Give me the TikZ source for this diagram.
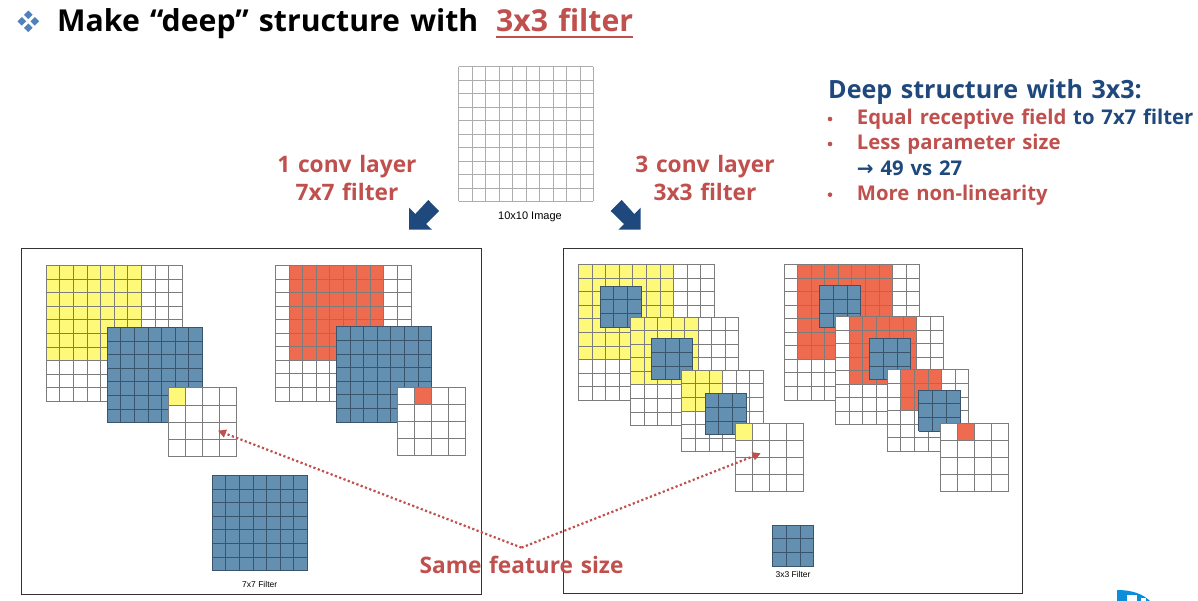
\documentclass[tikz,border=0pt]{standalone}
\usepackage{fontspec}
\usetikzlibrary{arrows.meta}
\newfontfamily\slidefont[WordSpace=1.3]{Open Sans}
\newfontfamily\capfont{Liberation Sans}
\newfontfamily\arrowfont{DejaVu Sans}
\definecolor{rot}{HTML}{C0504D}
\definecolor{navy}{HTML}{1F497D}
\definecolor{dia}{HTML}{4F81BD}
\definecolor{filt}{HTML}{6390B0}
\definecolor{gelb}{HTML}{FFF97A}
\definecolor{koral}{HTML}{EE6B50}
\definecolor{netz}{HTML}{7C7C7C}
\definecolor{netzd}{HTML}{3A556B}
\definecolor{logo}{HTML}{0A8FD8}
\tikzset{
  frame/.style={draw=black!80,line width=0.9pt},
  netzlin/.style={netz,line width=0.55pt},
  netzfilt/.style={netzd,line width=0.55pt},
  netzhell/.style={black!32,line width=0.55pt},
  blockpfeil/.style={fill=navy},
  samepfeil/.style={-{Triangle[length=8pt,width=8pt]},rot,line width=2.2pt,dash pattern=on 2.2pt off 2.4pt},
  rottxt/.style={rot,font=\slidefont\bfseries\fontsize{22.7}{22.7}\selectfont,inner sep=0pt},
  listtxt/.style={anchor=base west,inner sep=0pt,font=\slidefont\bfseries\fontsize{20.3}{20.3}\selectfont},
  captxt/.style={inner sep=0pt,font=\capfont\fontsize{8.5}{8.5}\selectfont},
}
% x, y, cells, cell size, first painted column, painted cells, colour
\newcommand{\cellgrid}[8][netzlin]{%
  \fill[white] (#2,#3) rectangle ({#2+#4*#5},{#3+#4*#5});
  \fill[#8] ({#2+#6*#5},#3) rectangle ({#2+(#6+#7)*#5},{#3+#7*#5});
  \foreach \i in {0,...,#4} {
    \draw[#1] ({#2+\i*#5},#3) -- ({#2+\i*#5},{#3+#4*#5});
    \draw[#1] (#2,{#3+\i*#5}) -- ({#2+#4*#5},{#3+\i*#5});
  }
}
\newcommand{\filtgrid}[3]{\cellgrid[netzfilt]{#1}{#2}{#3}{\ifnum#3=3 13.75\else 13.6\fi}{0}{#3}{filt}}
\begin{document}
\begin{tikzpicture}[x=1pt,y=-1pt]
  \useasboundingbox (0,0) rectangle (1198,601);
  \fill[white] (0,0) rectangle (1198,601);
  % title
  \foreach \dx/\dy in {0/-6.5,-6.5/0,6.5/0,0/6.5}
    \fill[dia] (28.3+\dx,21.3+\dy-4.3) -- ++(4.3,4.3) -- ++(-4.3,4.3) -- ++(-4.3,-4.3) -- cycle;
  \node[anchor=base west,inner sep=0pt,font=\slidefont\bfseries\fontsize{30.2}{30.2}\selectfont] (title) at (57,32) {Make “deep” structure with};
  \node[anchor=base west,inner sep=0pt,rot,font=\slidefont\bfseries\fontsize{30.2}{30.2}\selectfont] (titlered) at (496,32) {3x3 filter};
  \draw[rot,line width=1.3pt] ([yshift=-5pt]titlered.base west) -- ([yshift=-5pt]titlered.base east);
  % input image
  \cellgrid[netzhell]{458.7}{66.7}{10}{13.46}{0}{0}{white}
  \node[captxt,font=\capfont\fontsize{11}{11}\selectfont] (imglabel) at (530,216.5) {10x10 Image};
  \node[rottxt,anchor=base] (onelayer) at (347,173) {1 conv layer};
  \node[rottxt,anchor=base] (onefilter) at (347,200.7) {7x7 filter};
  \node[rottxt,anchor=base] (threelayer) at (705,173) {3 conv layer};
  \node[rottxt,anchor=base] (threefilter) at (705,200.7) {3x3 filter};
  \fill[blockpfeil] (428.3,200) -- (439,211) -- (426,224) -- (432,229.7) -- (409,229.7) -- (409,207.7) -- (415.3,214) -- cycle;
  \fill[blockpfeil] (621.7,200) -- (610.7,211) -- (624,224) -- (618.3,229.7) -- (640.7,229.7) -- (640.7,207.7) -- (634.3,214) -- cycle;
  % notes
  \node[anchor=base west,inner sep=0pt,navy,font=\slidefont\bfseries\fontsize{25.1}{25.1}\selectfont] (deep) at (828,98.3) {Deep structure with 3x3:};
  \node[listtxt,rot] (equal) at (856.7,125) {Equal receptive field \textcolor{navy}{to 7x7 filter}};
  \node[listtxt,rot] (less) at (856.7,150) {Less parameter size};
  \node[listtxt,navy] (vs) at (856.7,176) {{\arrowfont\fontsize{20}{20}\selectfont →} 49 vs 27};
  \node[listtxt,rot] (more) at (856.7,200.7) {More non-linearity};
  \foreach \y in {125,150,200.7}
    \fill[rot] (830,\y-6) circle (2.3pt);
  % left panel
  \draw[frame] (21,248.7) rectangle (481,594);
  \cellgrid{46}{265.3}{10}{13.6}{0}{7}{gelb}
  \filtgrid{107}{327.3}{7}
  \cellgrid{168.3}{387.7}{4}{17.1}{0}{1}{gelb}
  \cellgrid{275.3}{265.3}{10}{13.55}{1}{7}{koral}
  \filtgrid{336.3}{326.7}{7}
  \cellgrid{397.3}{387.3}{4}{17.1}{1}{1}{koral}
  \filtgrid{212}{475.3}{7}
  \node[captxt] (sevenlabel) at (259.7,584) {7x7 Filter};
  % right panel
  \draw[frame] (563.3,248.7) rectangle (1022.3,593.3);
  \cellgrid{578.3}{264.3}{10}{13.6}{0}{7}{gelb}
  \filtgrid{600}{286}{3}
  \cellgrid{630.3}{317}{8}{13.55}{0}{5}{gelb}
  \filtgrid{651.3}{338.3}{3}
  \cellgrid{681.7}{370}{6}{13.6}{0}{3}{gelb}
  \filtgrid{705}{393.3}{3}
  \cellgrid{735}{423.3}{4}{17.05}{0}{1}{gelb}
  \cellgrid{784}{264.3}{10}{13.55}{1}{7}{koral}
  \filtgrid{819.3}{285.7}{3}
  \cellgrid{835.7}{316.7}{8}{13.5}{1}{5}{koral}
  \filtgrid{869.3}{338.3}{3}
  \cellgrid{887}{369.7}{6}{13.6}{1}{3}{koral}
  \filtgrid{918.7}{390}{3}
  \cellgrid{940.3}{423.3}{4}{17.1}{1}{1}{koral}
  \filtgrid{772.3}{525}{3}
  \node[captxt] (threelabel) at (793,574.7) {3x3 Filter};
  % same size arrows
  \node[rottxt,anchor=base,outer ysep=8pt] (same) at (521.5,573) {Same feature size};
  \coordinate (lefttip) at (218,430.7);
  \coordinate (righttip) at (760.7,453.3);
  \draw[samepfeil] (same.north) -- (lefttip);
  \draw[samepfeil] (same.north) -- (righttip);
  % logo corner
  \fill[logo] (1117,601) -- (1117,590) .. controls (1132,590) and (1143,594) .. (1150,601) -- cycle;
  \fill[white] (1127,595) rectangle (1137,601);
  \fill[white] (1141,598) rectangle (1146,601);
\end{tikzpicture}
\end{document}
